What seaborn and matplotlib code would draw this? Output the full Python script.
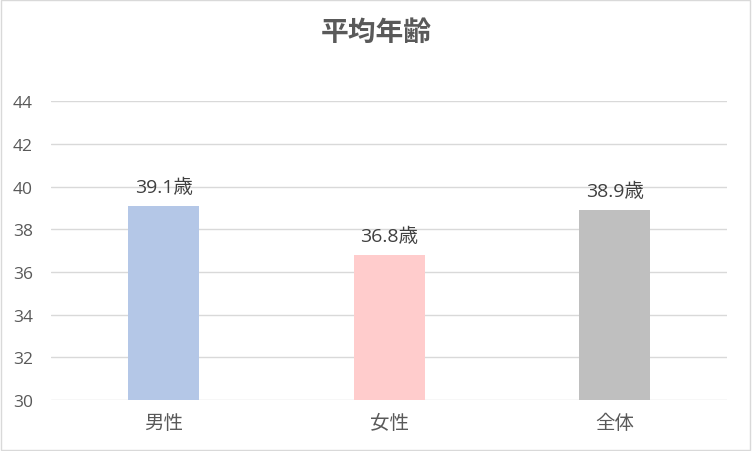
import matplotlib.pyplot as plt
import pandas as pd
import seaborn as sns
from matplotlib.patches import Rectangle

# --- data ---
categories = ['男性', '女性', '全体']
ages = [39.1, 36.8, 38.9]
bar_colors = ['#B4C7E7', '#FFCCCC', '#BFBFBF']
yticks = [30, 32, 34, 36, 38, 40, 42, 44]

df = pd.DataFrame({'cat': categories, 'age': ages})

sns.set_style('white')
plt.rcParams['font.family'] = ['Open Sans', 'Noto Sans CJK JP', 'DejaVu Sans']

fig = plt.figure(figsize=(7.52, 4.52), dpi=100)
ax = fig.add_axes([0.068, 0.113, 0.899, 0.661])

sns.barplot(data=df, x='cat', y='age', hue='cat', palette=bar_colors,
            width=0.315, saturation=1, legend=False, ax=ax,
            edgecolor='none', zorder=3)

ax.set_ylim(30, 44)
ax.set_yticks(yticks)
ax.set_xlim(-0.5, 2.5)
ax.grid(axis='y', color='#D9D9D9', linewidth=1, zorder=0)
for s in ax.spines.values():
    s.set_visible(False)
ax.set_xlabel('')
ax.set_ylabel('')
ax.tick_params(axis='y', length=0, colors='#595959', labelsize=12.5, pad=13)
ax.tick_params(axis='x', length=0, colors='#595959', labelsize=14, pad=9)
for lbl in ax.get_xticklabels():
    lbl.set_family(['Noto Sans CJK JP', 'DejaVu Sans'])

for i, v in enumerate(ages):
    ax.text(i, v + 0.45, f'{v}歳', ha='center', va='bottom',
            color='#404040', fontsize=14)

fig.suptitle('平均年齢', y=0.927, va='center', fontsize=20, fontweight='bold',
             color='#595959', family=['Noto Sans CJK JP'])

# light border around the chart
fig.patches.append(Rectangle((0.001, 0.002), 0.997, 0.995, transform=fig.transFigure,
                             fill=False, edgecolor='#D9D9D9', linewidth=1))

fig.savefig('out.png', dpi=100, facecolor='white')
